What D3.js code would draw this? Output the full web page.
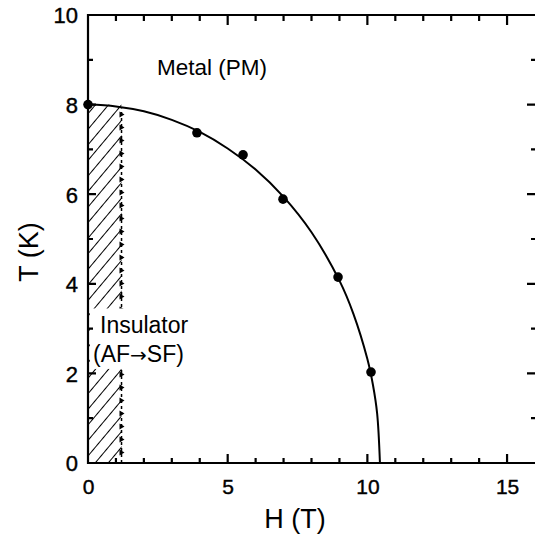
<!DOCTYPE html>
<html>
<head>
<meta charset="utf-8">
<script src="https://cdn.jsdelivr.net/npm/d3@7"></script>
<style>
  body { margin: 0; background: #fff; }
  text { font-family: "Liberation Sans", Arial, sans-serif; fill: #000; }
</style>
</head>
<body>
<div id="chart-area"></div>
<script>
// measured points (H in tesla, T in kelvin)
let pointH = [0, 3.9, 5.55, 6.98, 8.95, 10.13];
let pointT = [8, 7.37, 6.88, 5.89, 4.15, 2.03];

// fitted phase boundary
let curveH = [0, 1, 2, 3, 4, 5, 6, 7, 8, 9, 9.5, 10, 10.2, 10.35, 10.45];
let curveT = [8, 7.96, 7.85, 7.66, 7.39, 7.02, 6.55, 5.94, 5.15, 4.07, 3.33, 2.32, 1.74, 1.10, 0];

// insulating (hatched) region
let insulatorH = [0, 1.2];
let insulatorT = [0, 8];

let xTicks = [0, 5, 10, 15];
let yTicks = [0, 2, 4, 6, 8, 10];

let width = 535,
    height = 534;

let svg = d3.select("#chart-area").append("svg")
  .attr("width", width)
  .attr("height", height);

let x = d3.scaleLinear().domain([0, 16]).range([88, 535]);
let y = d3.scaleLinear().domain([0, 10]).range([463, 15]);

// hatch pattern
let defs = svg.append("defs");
defs.append("pattern")
  .attr("id", "hatch")
  .attr("patternUnits", "userSpaceOnUse")
  .attr("width", 10)
  .attr("height", 10)
  .attr("patternTransform", "rotate(40)")
  .append("line")
  .attr("x1", 0).attr("y1", 0)
  .attr("x2", 0).attr("y2", 10)
  .attr("stroke", "#000")
  .attr("stroke-width", 2);

svg.append("rect")
  .attr("x", x(insulatorH[0]))
  .attr("y", y(insulatorT[1]))
  .attr("width", x(insulatorH[1]) - x(insulatorH[0]))
  .attr("height", y(insulatorT[0]) - y(insulatorT[1]))
  .attr("fill", "url(#hatch)");

// dashed right edge with little arrow heads
svg.append("line")
  .attr("x1", x(insulatorH[1])).attr("x2", x(insulatorH[1]))
  .attr("y1", y(insulatorT[0])).attr("y2", y(insulatorT[1]) + 4)
  .attr("stroke", "#000")
  .attr("stroke-width", 1.5)
  .attr("stroke-dasharray", "3,3");

let arrowY = d3.range(y(insulatorT[1]) + 10, y(0), 13);
svg.selectAll(".arr")
  .data(arrowY)
  .enter()
  .append("path")
  .attr("class", "arr")
  .attr("d", d => {
    let ax = x(insulatorH[1]);
    return "M" + (ax - 2) + "," + (d - 3) + "L" + (ax + 3) + "," + d + "L" + (ax - 2) + "," + (d + 3) + "Z";
  })
  .attr("fill", "#000");

// white box behind the insulator label
svg.append("rect")
  .attr("x", x(0) + 2)
  .attr("y", y(3.45))
  .attr("width", 110)
  .attr("height", y(2.1) - y(3.45))
  .attr("fill", "#fff");

// boundary curve
let curveData = curveH.map((h, i) => [h, curveT[i]]);
svg.append("path")
  .datum(curveData)
  .attr("d", d3.line().x(d => x(d[0])).y(d => y(d[1])).curve(d3.curveCatmullRom))
  .attr("fill", "none")
  .attr("stroke", "#000")
  .attr("stroke-width", 2);

// data points
svg.selectAll(".pt")
  .data(pointH.map((h, i) => [h, pointT[i]]))
  .enter()
  .append("circle")
  .attr("class", "pt")
  .attr("cx", d => x(d[0]))
  .attr("cy", d => y(d[1]))
  .attr("r", 4.8)
  .attr("fill", "#000");

// frame
let frame = svg.append("g")
  .attr("stroke", "#000")
  .attr("stroke-width", 2.2)
  .attr("fill", "none");
frame.append("line").attr("x1", x(0)).attr("x2", x(0)).attr("y1", y(0) + 1).attr("y2", y(10) - 1);
frame.append("line").attr("x1", x(0) - 1).attr("x2", x(16)).attr("y1", y(0)).attr("y2", y(0));
frame.append("line").attr("x1", x(0) - 1).attr("x2", x(16)).attr("y1", y(10)).attr("y2", y(10));

// minor/major ticks, all pointing inward, one path per side
let hTicks = d3.range(1, 16);
let tTicks = d3.range(1, 10);

let tickPath = [
  hTicks.map(d => "M" + x(d) + "," + y(0) + "v" + (d % 5 === 0 ? -9 : -5)).join(""),
  hTicks.map(d => "M" + x(d) + "," + y(10) + "v" + (d % 5 === 0 ? 10 : 6)).join(""),
  tTicks.map(d => "M" + x(0) + "," + y(d) + "h" + (d % 2 === 0 ? 8 : 5)).join(""),
  tTicks.map(d => "M" + x(16) + "," + y(d) + "h" + (d % 2 === 0 ? -8 : -4)).join("")
];

svg.selectAll(".ticks")
  .data(tickPath)
  .enter()
  .append("path")
  .attr("class", "ticks")
  .attr("d", d => d)
  .attr("fill", "none")
  .attr("stroke", "black")
  .attr("stroke-width", 2.2);

// tick labels
svg.append("g")
  .attr("transform", "translate(0," + (y(0) + 10) + ")")
  .call(d3.axisBottom(x).tickValues(xTicks).tickSize(0).tickPadding(6))
  .call(g => g.select(".domain").remove())
  .call(g => g.selectAll("text")
    .attr("font-size", 21)
    .attr("stroke", "#000").attr("stroke-width", 0.4)
    .attr("font-family", "Liberation Sans, Arial, sans-serif"));

svg.append("g")
  .attr("transform", "translate(" + (x(0) - 10) + ",0)")
  .call(d3.axisLeft(y).tickValues(yTicks).tickSize(0).tickPadding(0))
  .call(g => g.select(".domain").remove())
  .call(g => g.selectAll("text")
    .attr("font-size", 22)
    .attr("dy", "0.36em")
    .attr("stroke", "#000").attr("stroke-width", 0.4)
    .attr("font-family", "Liberation Sans, Arial, sans-serif"));

// axis titles
svg.append("text")
  .attr("x", 295)
  .attr("y", 528)
  .attr("text-anchor", "middle")
  .attr("font-size", 27)
  .text("H (T)");

svg.append("text")
  .attr("transform", "translate(38,252) rotate(-90)")
  .attr("text-anchor", "middle")
  .attr("font-size", 27)
  .text("T (K)");

// region labels
svg.append("text")
  .attr("x", 157)
  .attr("y", 75)
  .attr("font-size", 22.5)
  .text("Metal (PM)");

svg.append("text")
  .attr("x", 100)
  .attr("y", 333)
  .attr("font-size", 23)
  .text("Insulator");

let ins2 = svg.append("text")
  .attr("x", 93)
  .attr("y", 362)
  .attr("font-size", 23);
ins2.append("tspan").text("(AF");
ins2.append("tspan").attr("font-family", "DejaVu Sans").attr("font-size", 20).text("\u2192");
ins2.append("tspan").text("SF)");
</script>
</body>
</html>
